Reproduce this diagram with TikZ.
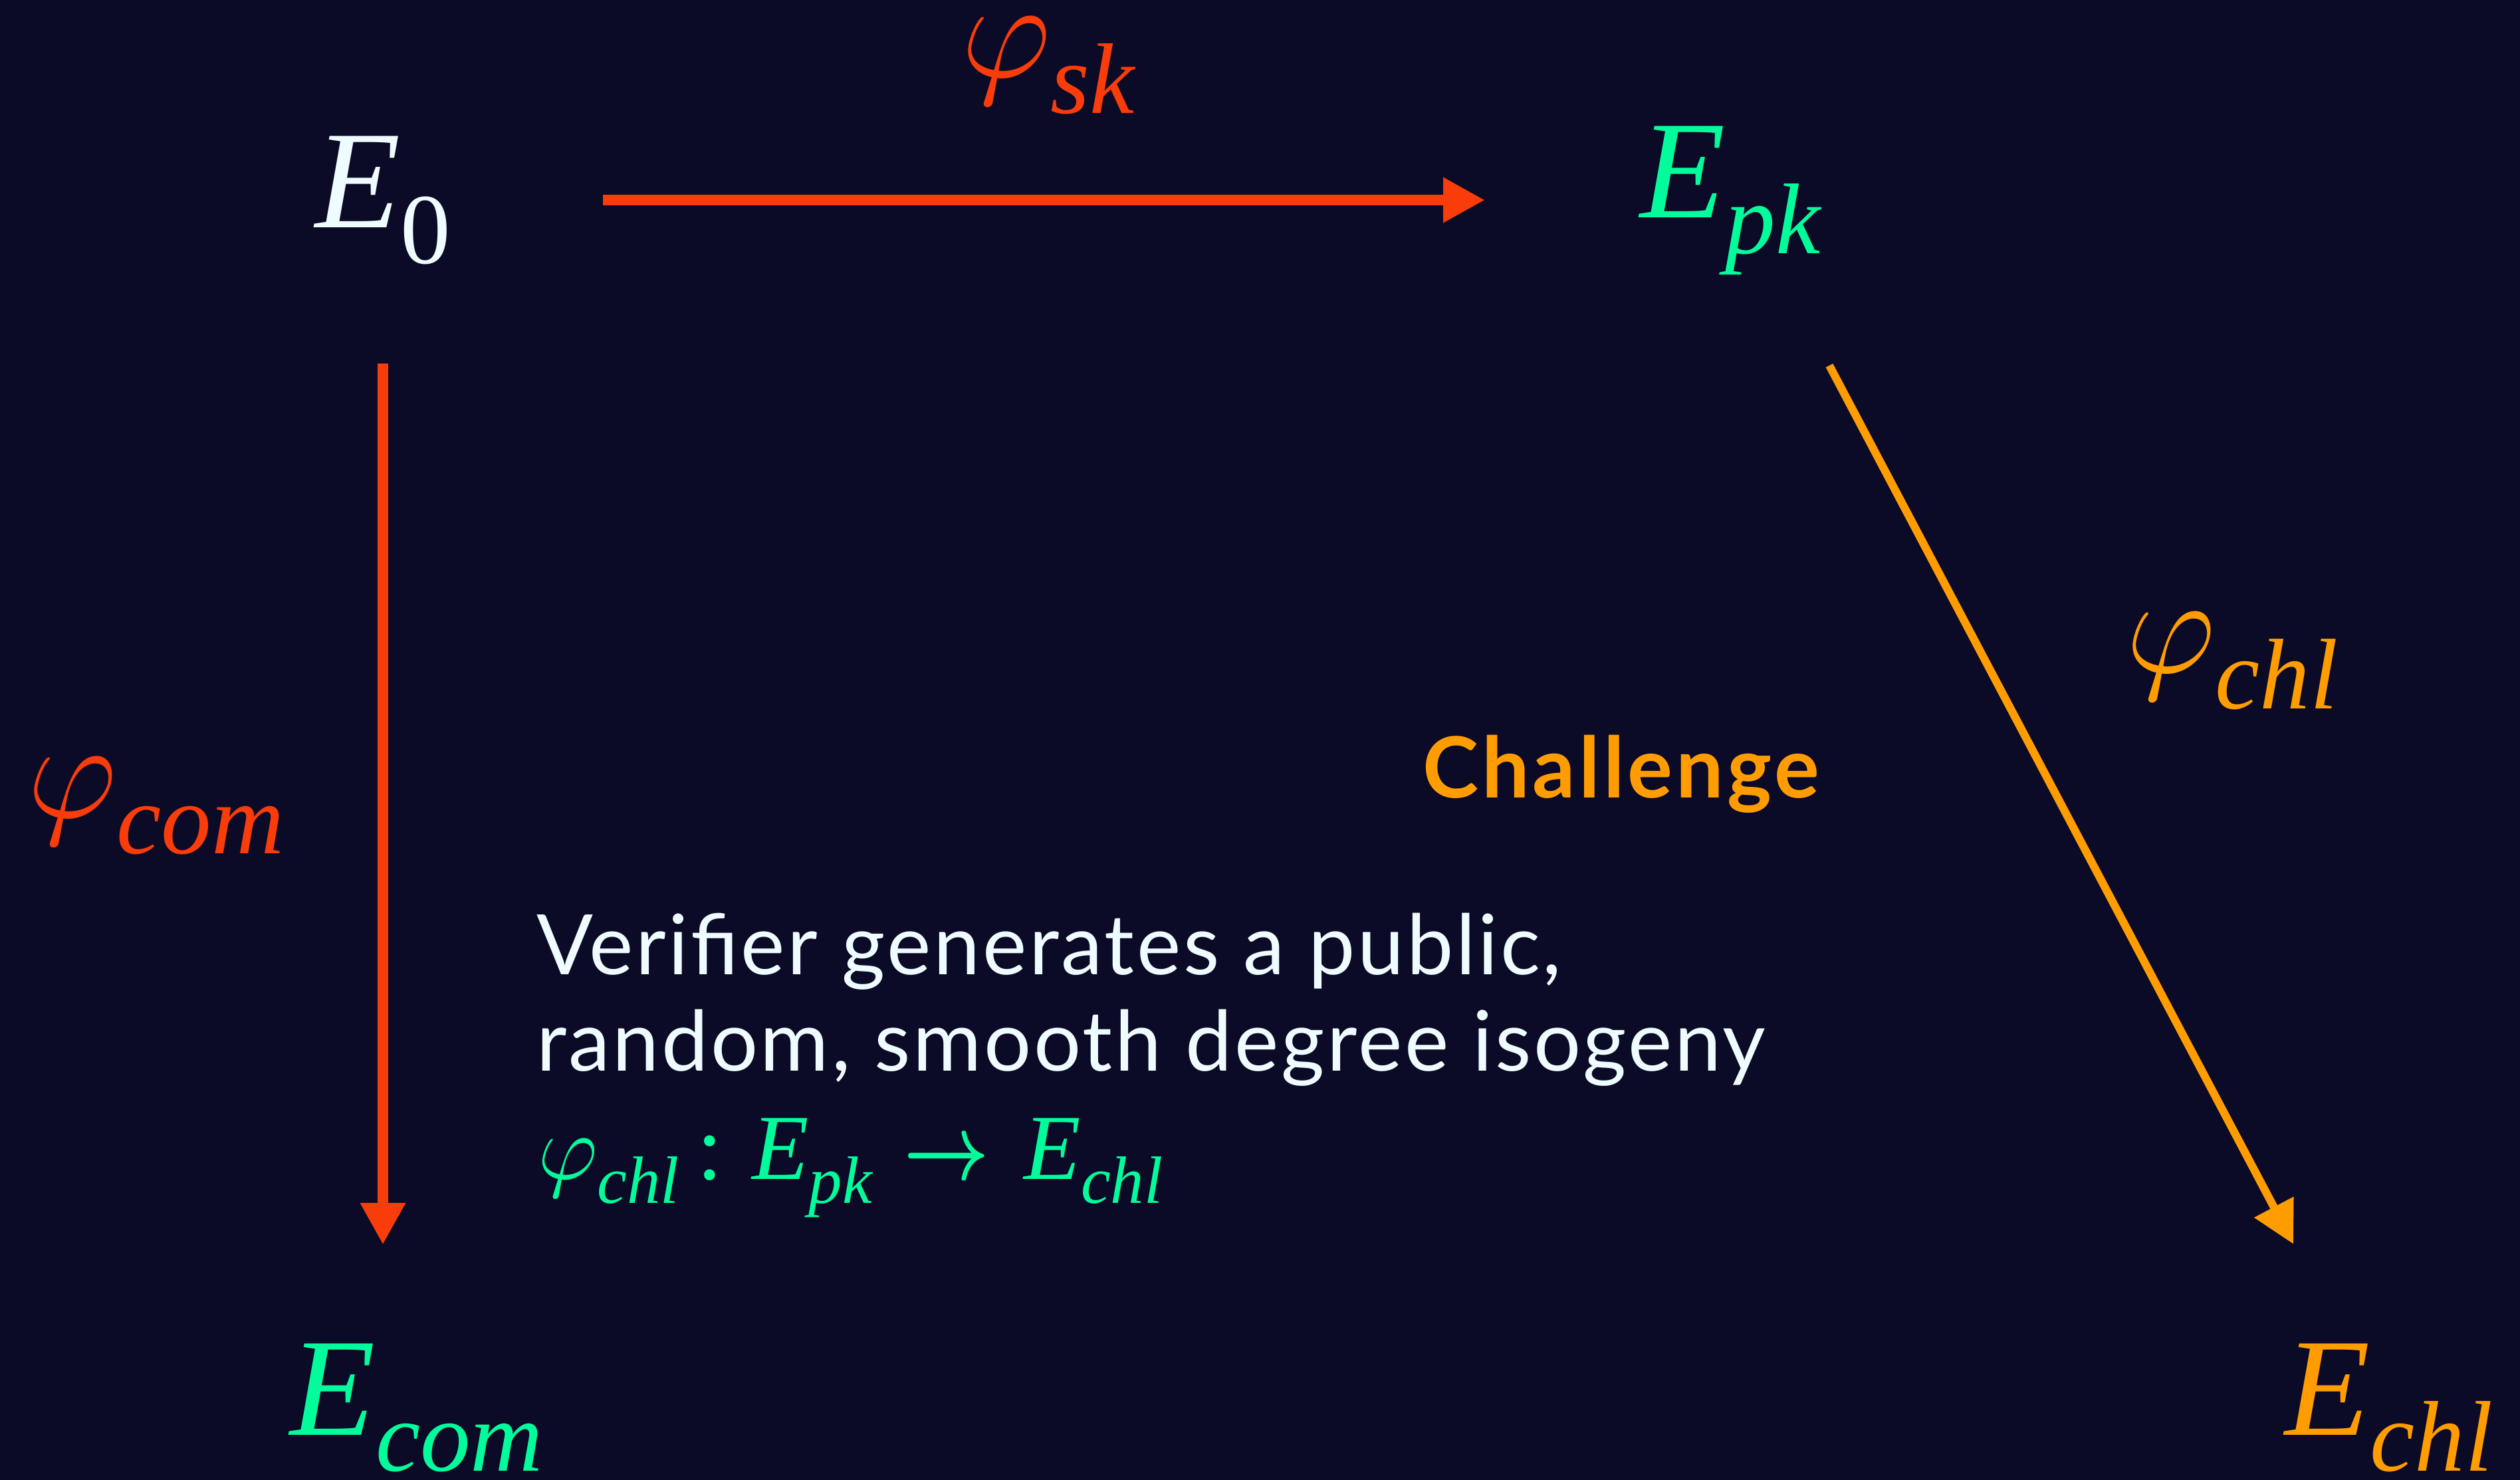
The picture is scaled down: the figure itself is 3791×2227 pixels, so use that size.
\documentclass[tikz,border=0pt]{standalone}
\usepackage{fix-cm}
\usepackage[no-math]{fontspec}
\usepackage{graphicx}
\setmainfont{Lato}
\newfontfamily\tms{Liberation Serif}
\newfontfamily\bodyfont{Lato}[LetterSpace=2.9]
\newfontfamily\chalfont{Lato}[LetterSpace=4]
\usetikzlibrary{arrows.meta}
\definecolor{bg}{HTML}{0B0A27}
\definecolor{cred}{HTML}{F83C0A}
\definecolor{cgreen}{HTML}{02FC9C}
\definecolor{corange}{HTML}{FF9C00}
\definecolor{cwhite}{HTML}{EEFBFF}
\newcommand\mE{{\tms\itshape E}}
\newcommand\mphi{$\varphi$}
\newcommand\bigsub[2]{{\fontsize{52.5pt}{60pt}\selectfont #1\raisebox{-13.5pt}{\fontsize{37.8pt}{40pt}\selectfont\tms\itshape #2}}}
\newcommand\smallsub[2]{{\fontsize{35pt}{40pt}\selectfont #1\raisebox{-9pt}{\fontsize{25.2pt}{28pt}\selectfont\tms\itshape #2}}}
\tikzset{
  curve/.style={inner sep=0pt, outer sep=0pt, anchor=center},
  lbl/.style={inner sep=0pt, outer sep=0pt, anchor=base west},
  redarr/.style={draw=cred, line width=4pt, -{Triangle[length=15.75pt, width=16pt]}},
  orarr/.style={draw=corange, line width=3pt, -{Triangle[length=15.75pt, width=16pt]}},
  bodytxt/.style={lbl, text=cwhite, align=left, font=\bodyfont\fontsize{31.4pt}{36.25pt}\selectfont},
}
\begin{document}
\begin{tikzpicture}[x=0.25pt, y=-0.25pt]
\useasboundingbox (0,0) rectangle (3791,2227);
\fill[bg] (0,0) rectangle (3791,2227);
% curves
\node[curve, text=cwhite] (E0) at (576,301) {\bigsub{\mE}{\upshape 0}};
\node[curve, text=cgreen] (Epk) at (2603,301.5) {\bigsub{\mE}{pk}};
\node[curve, text=cgreen] (Ecom) at (627,2118) {\bigsub{\mE}{com}};
\node[curve, text=corange] (Echl) at (3594,2118) {\bigsub{\mE}{chl}};
% isogeny labels
\node[lbl, text=cred] (psk) at (1446,116) {\bigsub{\mphi}{sk}};
\node[lbl, text=cred] (pcom) at (41,1230) {\bigsub{\mphi}{com}};
\node[lbl, text=corange] (pchl) at (3198,1012) {\bigsub{\mphi}{chl}};
% texts
\node[lbl, text=corange, font=\chalfont\bfseries\fontsize{31.75pt}{36pt}\selectfont] (chal) at (2140,1200) {Challenge};
\node[bodytxt] (desc) at (807,1611) {Verifier generates a public,\\random, smooth degree isogeny};
\node[lbl, text=cgreen] (map) at (809,1774) {\smallsub{\mphi}{chl}\hspace{6.6pt}{\fontsize{35pt}{40pt}\selectfont\tms :}\hspace{11pt}\smallsub{\mE}{pk}\hspace{12pt}{\fontsize{35pt}{40pt}\selectfont\scalebox{0.8}[1]{\boldmath$\rightarrow$}}\hspace{13pt}\smallsub{\mE}{chl}};
% arrows
\draw[redarr, shorten <=82.75pt, shorten >=92.25pt] (E0.center) -- (E0.center -| Epk.center);
\draw[redarr, shorten <=61.5pt, shorten >=61.25pt] (E0.center) -- (E0.center |- Ecom.center);
\draw[orarr, shorten <=70.25pt, shorten >=69.55pt] ([xshift=4.45pt]Epk.center) -- ([xshift=-3.5pt]Echl.center);
\end{tikzpicture}
\end{document}
